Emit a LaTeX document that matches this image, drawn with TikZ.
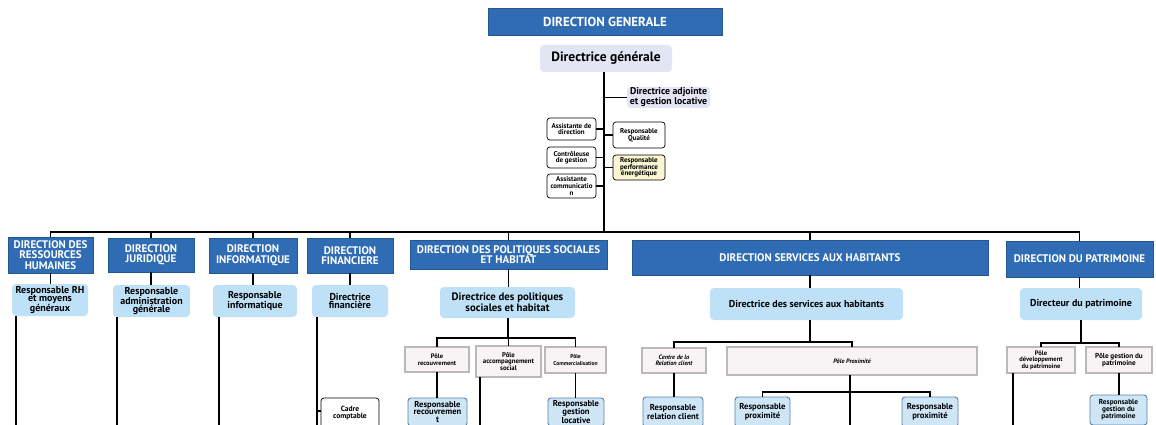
\documentclass[tikz,border=0pt]{standalone}
\usepackage{fontspec}
\setmainfont{PT Sans}
\definecolor{dirblue}{HTML}{2F6CB3}
\definecolor{dirborder}{HTML}{24578F}
\definecolor{lblue}{HTML}{BEE1F8}
\definecolor{lav}{HTML}{E2E5F3}
\definecolor{ylw}{HTML}{FAF5D2}
\definecolor{polefill}{HTML}{F8F3F5}
\definecolor{respfill}{HTML}{CFE6F7}
\definecolor{respborder}{HTML}{5C7FA6}
\newcommand{\fsz}[2]{\bfseries\fontsize{#1}{#2}\selectfont}
\begin{document}
\begin{tikzpicture}[x=1pt,y=-1pt,
  every node/.style={inner sep=0.5pt, align=center},
  dirbox/.style={fill=dirblue, draw=dirborder, line width=0.6pt, text=white,
    font=\fsz{11}{10.5}},
  headbox/.style={fill=lblue, rounded corners=4pt, font=\fsz{10}{8.6}},
  lavbox/.style={fill=lav, rounded corners=4pt},
  smallbox/.style={fill=white, draw=black, line width=0.7pt, rounded corners=3pt,
    font=\fsz{7}{6.6}},
  polebox/.style={fill=polefill, draw=black!85, double=gray!55, double distance=1.6pt,
    line width=0.6pt, font=\fsz{6.3}{6.4}},
  respbox/.style={fill=respfill, draw=respborder, line width=0.9pt, rounded corners=3pt,
    font=\fsz{8.6}{7.4}},
  link/.style={draw=black, line width=1.4pt}
]
\useasboundingbox (0,0) rectangle (1156,425);
\clip (0,0) rectangle (1156,425);

% ---------- top ----------
\node[dirbox, minimum width=234, minimum height=27, font=\fsz{13}{14}] (DG) at (605,21.5) {DIRECTION GENERALE};
\node[lavbox, minimum width=132, minimum height=27, font=\fsz{13.5}{14}] (DirG) at (606,58.5) {Directrice générale};
\node[lavbox, minimum width=83, minimum height=21, font=\fsz{9.8}{8.8}] (Adj) at (668.5,97.5) {Directrice adjointe\\et gestion locative};
\node[smallbox, minimum width=49, minimum height=22] (AssDir) at (571.5,129) {Assistante de\\direction};
\node[smallbox, minimum width=49, minimum height=21] (Ctrl) at (571.5,157.5) {Contrôleuse\\de gestion};
\node[smallbox, minimum width=49, minimum height=24] (AssCom) at (571.5,186) {Assistante\\communicatio\\n};
\node[smallbox, minimum width=52, minimum height=26] (RQual) at (639,135) {Responsable\\Qualité};
\node[smallbox, fill=ylw, minimum width=52, minimum height=25] (RPerf) at (639,167.5) {Responsable\\performance\\énergétique};

\coordinate (bus) at (604,232);
\coordinate (spine) at (604,0);
\draw[link] (spine |- DirG.south) -- (bus);
\draw[link] (Adj.west) -- (spine |- Adj.west);
\draw[link] (AssDir.east) -- (spine |- AssDir.east);
\draw[link] (Ctrl.east) -- (spine |- Ctrl.east);
\draw[link] (AssCom.east) -- (spine |- AssCom.east);
\draw[link] (RQual.west) -- (spine |- RQual.west);
\draw[link] (RPerf.west) -- (spine |- RPerf.west);

% ---------- directions ----------
\node[dirbox, minimum width=85, minimum height=36] (DRH) at (50.5,255) {DIRECTION DES\\RESSOURCES\\HUMAINES};
\node[dirbox, minimum width=86, minimum height=34] (DJ) at (151,255) {DIRECTION\\JURIDIQUE};
\node[dirbox, minimum width=88, minimum height=35] (DI) at (253,255.5) {DIRECTION\\INFORMATIQUE};
\node[dirbox, minimum width=86, minimum height=35] (DF) at (350,255.5) {DIRECTION\\FINANCIERE};
\node[dirbox, minimum width=197, minimum height=29] (DPS) at (508.5,254.5) {DIRECTION DES POLITIQUES SOCIALES\\ET HABITAT};
\node[dirbox, minimum width=356, minimum height=35] (DSH) at (810,257.5) {DIRECTION SERVICES AUX HABITANTS};
\node[dirbox, minimum width=147, minimum height=36] (DP) at (1079.5,259) {DIRECTION DU PATRIMOINE};

\foreach \n in {DRH,DJ,DI,DF,DPS,DSH,DP} { \draw[link] (\n.north) |- (bus); }

% ---------- second row ----------
\node[headbox, minimum width=76, minimum height=32] (R1) at (50,300) {Responsable RH\\et moyens\\généraux};
\node[headbox, minimum width=77, minimum height=32] (R2) at (151.5,301) {Responsable\\administration\\générale};
\node[headbox, minimum width=84, minimum height=32] (R3) at (255,301) {Responsable\\informatique};
\node[headbox, minimum width=76, minimum height=32] (R4) at (350,301) {Directrice\\financière};
\node[headbox, minimum width=135, minimum height=31, font=\fsz{10.8}{9.5}] (R5) at (507.5,302.5) {Directrice des politiques\\sociales et habitat};
\node[headbox, minimum width=193, minimum height=32] (R6) at (806.5,304) {Directrice des services aux habitants};
\node[headbox, minimum width=122, minimum height=32] (R7) at (1081,304) {Directeur du patrimoine};

\foreach \a/\b in {DRH/R1,DJ/R2,DI/R3,DF/R4,DPS/R5,DSH/R6,DP/R7} { \draw[link] (\a) -- (\a |- \b.north); }

% long lines to the bottom
\coordinate (e1) at (16,426);
\coordinate (e2) at (117,426);
\coordinate (e3) at (219,426);
\coordinate (e4) at (317,426);
\draw[link] (e1 |- R1.south) -- (e1);
\draw[link] (e2 |- R2.south) -- (e2);
\draw[link] (e3 |- R3.south) -- (e3);
\draw[link] (e4 |- R4.south) -- (e4);
\node[smallbox, minimum width=58, minimum height=30, font=\fsz{7.5}{7.5}] (CC) at (350,413) {Cadre\\comptable};
\draw[link] (CC.west |- 0,411) -- (e4 |- 0,411);

% ---------- politiques sociales ----------
\coordinate (j5) at (508,338);
\node[polebox, minimum width=64, minimum height=25, font=\fsz{6.5}{6.6}] (P1) at (437,359.5) {Pôle\\recouvrement};
\node[polebox, minimum width=65, minimum height=31, font=\fsz{6.8}{6.6}] (P2) at (508.5,361.5) {Pôle\\accompagnement\\social};
\node[polebox, minimum width=61, minimum height=26, font=\fsz{5.6}{6.6}] (P3) at (575.5,360) {Pôle\\Commercialisation};
\draw[link] (R5.south -| j5) -- (j5);
\draw[link] (P1.north) |- (j5);
\draw[link] (P2.north) |- (j5);
\draw[link] (P3.north) |- (j5);
\node[respbox, minimum width=59, minimum height=28] (RR) at (437.5,412) {Responsable\\recouvremen\\t};
\node[respbox, minimum width=56, minimum height=28] (RGL) at (576,412) {Responsable\\gestion\\locative};
\draw[link] (P1) -- (P1 |- RR.north);
\draw[link] (P3) -- (P3 |- RGL.north);
\coordinate (e5) at (480,426);
\draw[link] (e5 |- P2.south) -- (e5);

% ---------- services aux habitants ----------
\coordinate (j6) at (810,342);
\node[polebox, minimum width=64, minimum height=25, font=\bfseries\itshape\fontsize{6.3}{6.4}\selectfont] (CRC) at (674,360.5) {Centre de la\\Relation client};
\node[polebox, minimum width=250, minimum height=28, font=\bfseries\itshape\fontsize{6.3}{6.4}\selectfont] (PPX) at (852,361) {Pôle Proximité};
\draw[link] (R6.south -| j6) -- (j6);
\draw[link] (CRC.north) |- (j6);
\draw[link] (PPX.north) |- (j6);
\node[respbox, minimum width=60, minimum height=30] (RRC) at (673,412) {Responsable\\relation client};
\draw[link] (CRC) -- (CRC |- RRC.north);
\coordinate (j8) at (850,392);
\node[respbox, minimum width=55, minimum height=30] (RP1) at (762.5,412) {Responsable\\proximité};
\node[respbox, minimum width=56, minimum height=30] (RP2) at (930,412) {Responsable\\proximité};
\coordinate (e6) at (850,426);
\draw[link] (e6 |- PPX.south) -- (e6);
\draw[link] (RP1.north) |- (j8);
\draw[link] (RP2.north) |- (j8);

% ---------- patrimoine ----------
\coordinate (j7) at (1081,343);
\node[polebox, minimum width=68, minimum height=26, font=\fsz{6.5}{6.6}] (PD) at (1041,360) {Pôle\\développement\\du patrimoine};
\node[polebox, minimum width=66, minimum height=26, font=\fsz{7.2}{7}] (PG) at (1119,360) {Pôle gestion du\\patrimoine};
\draw[link] (R7.south -| j7) -- (j7);
\draw[link] (PD.north) |- (j7);
\draw[link] (PG.north) |- (j7);
\node[respbox, minimum width=57, minimum height=30, font=\fsz{7.3}{6.9}] (RGP) at (1118.5,410) {Responsable\\gestion du\\patrimoine};
\draw[link] (PG) -- (PG |- RGP.north);
\coordinate (e7) at (1013,426);
\draw[link] (e7 |- PD.south) -- (e7);
\end{tikzpicture}
\end{document}
